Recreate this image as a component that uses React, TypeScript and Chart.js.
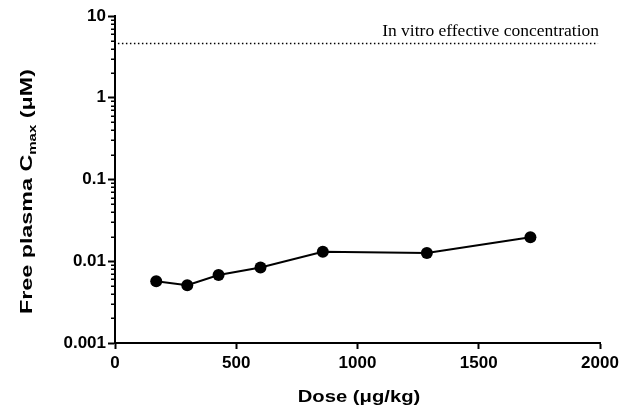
import React, { useEffect, useRef } from "react";
import { Chart, registerables } from "chart.js";

Chart.register(...registerables);

const doses = [170, 298, 427, 600, 857, 1286, 1713];
const cmax = [0.0057, 0.0051, 0.0068, 0.0084, 0.0131, 0.0126, 0.0197];
const refLineX = [12, 1992];
const refLineY = [4.6, 4.6];
const refLabel = "In vitro effective concentration";
const xTicks = [0, 500, 1000, 1500, 2000];
const xTickLabels = ["0", "500", "1000", "1500", "2000"];
const yMajorTicks = [0.001, 0.01, 0.1, 1, 10];
const yMajorLabels = ["0.001", "0.01", "0.1", "1", "10"];
const xTitle = "Dose (\u03bcg/kg)";
const yTitleMain = "Free plasma C";
const yTitleSub = "max";
const yTitleEnd = " (\u03bcM)";

const SANS = "'Liberation Sans', Arial, sans-serif";
const SERIF = "'Liberation Serif', 'Times New Roman', serif";

function isMajor(v: number) {
  return yMajorTicks.some((m) => Math.abs(m - v) / m < 1e-6);
}

const overlayPlugin = {
  id: "overlay",
  afterDraw(chart: any) {
    const ctx = chart.ctx;
    const ys = chart.scales.y;
    const area = chart.chartArea;
    ctx.save();
    // minor y ticks
    ctx.strokeStyle = "#000";
    ctx.lineWidth = 1.5;
    ys.ticks.forEach((t: any) => {
      if (!isMajor(t.value)) {
        const py = Math.round(ys.getPixelForValue(t.value)) + 0.25;
        ctx.beginPath();
        ctx.moveTo(area.left - 4, py);
        ctx.lineTo(area.left, py);
        ctx.stroke();
      }
    });
    // annotation text
    ctx.fillStyle = "#000";
    ctx.font = `17.5px ${SERIF}`;
    ctx.textAlign = "right";
    ctx.textBaseline = "alphabetic";
    ctx.fillText(refLabel, area.right - 1, ys.getPixelForValue(refLineY[0]) - 8);
    // x title
    ctx.font = `bold 17px ${SANS}`;
    ctx.textAlign = "center";
    ctx.save();
    ctx.translate(359, 402);
    ctx.scale(1.19, 1);
    ctx.fillText(xTitle, 0, 0);
    ctx.restore();
    // y title
    ctx.save();
    ctx.translate(32, 191.5);
    ctx.rotate(-Math.PI / 2);
    ctx.scale(1.37, 1);
    const mainFont = `bold 17px ${SANS}`;
    const subFont = `bold 11px ${SANS}`;
    ctx.font = mainFont;
    const w1 = ctx.measureText(yTitleMain).width;
    const w3 = ctx.measureText(yTitleEnd).width;
    ctx.font = subFont;
    const w2 = ctx.measureText(yTitleSub).width;
    const total = w1 + w2 + w3;
    const x0 = -total / 2;
    ctx.textAlign = "left";
    ctx.font = mainFont;
    ctx.fillText(yTitleMain, x0, 0);
    ctx.font = subFont;
    ctx.fillText(yTitleSub, x0 + w1, 4);
    ctx.font = mainFont;
    ctx.fillText(yTitleEnd, x0 + w1 + w2, 0);
    ctx.restore();
    ctx.restore();
  },
};

export default function App() {
  const ref = useRef<HTMLCanvasElement | null>(null);
  useEffect(() => {
    if (!ref.current) return;
    const chart = new Chart(ref.current, {
      type: "line",
      data: {
        datasets: [
          {
            data: doses.map((d, i) => ({ x: d, y: cmax[i] })),
            borderColor: "#000",
            backgroundColor: "#000",
            borderWidth: 2,
            pointRadius: 6,
            pointBackgroundColor: "#000",
            pointBorderColor: "#000",
            pointBorderWidth: 0,
            tension: 0,
          },
          {
            data: refLineX.map((x, i) => ({ x, y: refLineY[i] })),
            borderColor: "#000",
            borderWidth: 1.5,
            borderDash: [1.5, 2.5],
            pointRadius: 0,
            tension: 0,
          },
        ],
      },
      options: {
        responsive: false,
        animation: false,
        events: [],
        layout: { padding: { left: 0, top: 16, right: 19, bottom: 0 } },
        plugins: {
          legend: { display: false },
          tooltip: { enabled: false },
        },
        scales: {
          x: {
            type: "linear",
            min: 0,
            max: 2000,
            afterBuildTicks: (s: any) => {
              s.ticks = xTicks.map((v) => ({ value: v }));
            },
            afterFit: (s: any) => {
              s.height = 407 - 343;
              s.paddingLeft = 0;
              s.paddingRight = 0;
            },
            ticks: {
              color: "#000",
              font: { family: SANS, size: 17, weight: "bold" },
              padding: 4,
              maxRotation: 0,
              autoSkip: false,
              callback: (v: any) => {
                const idx = xTicks.indexOf(Number(v));
                return idx >= 0 ? xTickLabels[idx] : "";
              },
            },
            grid: {
              drawOnChartArea: false,
              drawTicks: true,
              tickLength: 6,
              tickWidth: 2,
              tickColor: "#000",
              color: "#000",
            },
            border: { display: true, color: "#000", width: 2 },
          },
          y: {
            type: "logarithmic",
            min: 0.001,
            max: 10,
            afterBuildTicks: (s: any) => {
              const t: any[] = [];
              for (let e = -3; e <= 1; e++) {
                for (let m = 1; m <= 9; m++) {
                  const v = parseFloat((m * Math.pow(10, e)).toPrecision(6));
                  if (v <= 10) t.push({ value: v });
                }
              }
              s.ticks = t;
            },
            afterFit: (s: any) => {
              s.width = 115;
              s.paddingTop = 0;
              s.paddingBottom = 0;
            },
            ticks: {
              color: "#000",
              font: { family: SANS, size: 17, weight: "bold" },
              padding: 2,
              autoSkip: false,
              callback: (v: any) => {
                const idx = yMajorTicks.findIndex((m) => Math.abs(m - v) / m < 1e-6);
                return idx >= 0 ? yMajorLabels[idx] : "";
              },
            },
            grid: {
              drawOnChartArea: false,
              drawTicks: true,
              tickLength: 7,
              tickWidth: 2,
              tickColor: (c: any) => (c.tick && isMajor(c.tick.value) ? "#000" : "rgba(0,0,0,0)"),
              color: "#000",
            },
            border: { display: true, color: "#000", width: 2 },
          },
        },
      },
      plugins: [overlayPlugin],
    });
    return () => chart.destroy();
  }, []);
  return (
    <canvas
      ref={ref}
      width={619}
      height={407}
      style={{ position: "absolute", left: 0, top: 0, width: 619, height: 407, display: "block" }}
    />
  );
}
